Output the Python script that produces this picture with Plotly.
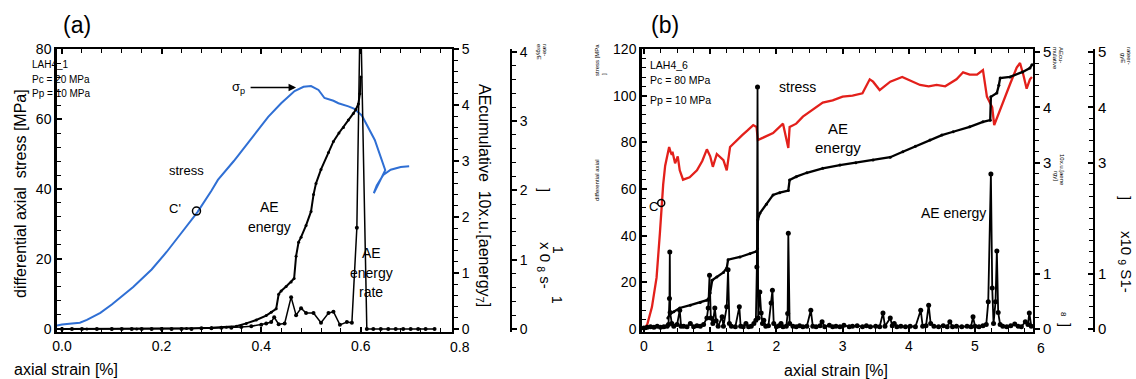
import plotly.graph_objects as go

W, H = 1136, 379
def fx(p): return p / W
def fy(p): return 1 - p / H

# ---------------- Panel (a) data ----------------
a_stress_x = [-0.01, 0.0, 0.02, 0.036, 0.05, 0.077, 0.1, 0.143, 0.18, 0.21, 0.24, 0.272, 0.3, 0.313,
              0.345, 0.38, 0.414, 0.44, 0.467, 0.485, 0.5, 0.515, 0.527, 0.545, 0.555, 0.575, 0.586, 0.602,
              0.628, 0.649, 0.626, 0.632, 0.645, 0.66, 0.68, 0.697]
a_stress_y = [1.0, 1.3, 1.6, 1.8, 2.6, 4.6, 7.0, 12.0, 17.0, 22.0, 27.5, 33.4, 39.5, 42.6,
              48.0, 54.5, 60.6, 64.5, 68.0, 69.2, 69.4, 68.3, 66.0, 65.2, 64.5, 63.6, 63.0, 61.0,
              54.0, 45.4, 38.8, 41.0, 44.0, 45.5, 46.3, 46.5]

a_cum_x = [0.0, 0.05, 0.1, 0.15, 0.2, 0.25, 0.3, 0.33, 0.35, 0.37, 0.39, 0.41, 0.42, 0.43, 0.435, 0.44,
           0.45, 0.46, 0.466, 0.47, 0.475, 0.48, 0.49, 0.5, 0.505, 0.51, 0.52, 0.535, 0.545, 0.556,
           0.565, 0.575, 0.585, 0.59, 0.595, 0.598, 0.6]
a_cum_y = [0.0, 0.0, 0.0, 0.0, 0.0, 0.01, 0.02, 0.03, 0.05, 0.1, 0.16, 0.24, 0.3, 0.36, 0.62, 0.68,
           0.76, 0.84, 0.9, 1.3, 1.55, 1.64, 1.85, 2.1, 2.4, 2.6, 2.85, 3.15, 3.35, 3.5,
           3.6, 3.73, 3.85, 3.92, 4.02, 4.2, 4.5]

a_rate_x = [0.0, 0.02, 0.04, 0.07, 0.1, 0.12, 0.14, 0.16, 0.18, 0.2, 0.22, 0.24, 0.26, 0.28, 0.3, 0.32,
            0.34, 0.36, 0.38, 0.4, 0.41, 0.42, 0.426, 0.435, 0.447, 0.46, 0.47, 0.48, 0.49, 0.505,
            0.52, 0.535, 0.545, 0.558, 0.572, 0.582, 0.592, 0.599, 0.612, 0.625, 0.64, 0.655, 0.67,
            0.685, 0.7, 0.715, 0.73, 0.748]
a_rate_y = [0.0, 0.0, 0.0, 0.0, 0.0, 0.0, 0.0, 0.0, 0.0, 0.0, 0.0, 0.0, 0.0, 0.01, 0.01, 0.02,
            0.02, 0.03, 0.04, 0.06, 0.08, 0.1, 0.17, 0.07, 0.08, 0.46, 0.2, 0.3, 0.23, 0.23,
            0.09, 0.23, 0.25, 0.06, 0.1, 0.09, 1.46, 4.8, 0.0, 0.0, 0.0, 0.0, 0.0,
            0.0, 0.0, 0.0, 0.0, 0.0]

# ---------------- Panel (b) data ----------------
b_stress_x = [0.0, 0.05, 0.12, 0.19, 0.24, 0.27, 0.29, 0.32, 0.35, 0.38, 0.4, 0.42, 0.43, 0.45, 0.47,
              0.51, 0.54, 0.59, 0.69, 0.8, 0.88, 0.95, 1.0, 1.04, 1.1, 1.2, 1.25, 1.3, 1.4, 1.48, 1.56,
              1.65, 1.7, 1.72, 1.8, 1.95, 2.1, 2.18, 2.2, 2.3, 2.4, 2.55, 2.7, 2.85, 3.0, 3.15, 3.3,
              3.41, 3.46, 3.56, 3.72, 3.9, 4.05, 4.17, 4.3, 4.42, 4.55, 4.62, 4.72, 4.82, 4.92, 5.03,
              5.12, 5.18, 5.22, 5.26, 5.29, 5.35, 5.43, 5.53, 5.63, 5.68, 5.73, 5.78, 5.83, 5.86]
b_stress_y = [0.0, 2.0, 9.4, 22.0, 41.0, 54.0, 62.0, 70.0, 74.0, 78.0, 76.0, 74.6, 76.0, 73.0, 71.0,
              74.0, 68.0, 64.0, 65.0, 68.0, 72.0, 77.0, 74.0, 69.5, 75.0, 72.4, 68.0, 78.0, 81.0, 83.0, 85.0,
              87.4, 86.6, 81.0, 82.0, 84.0, 88.0, 77.6, 86.6, 88.0, 91.0, 94.0, 97.0, 98.0, 99.6, 100.0, 101.0,
              107.0, 106.0, 102.4, 106.0, 108.0, 106.0, 104.6, 104.0, 104.6, 104.0, 105.4, 107.0, 110.0, 109.0, 109.0,
              111.0, 99.6, 97.0, 95.0, 87.4, 92.0, 98.0, 105.0, 112.0, 114.0, 109.0, 103.0, 107.0, 108.0]

b_cum_x = [0.36, 0.39, 0.45, 0.54, 0.7, 0.85, 0.95, 0.99, 1.0, 1.03, 1.1, 1.2, 1.25, 1.27, 1.45, 1.6,
           1.7, 1.715, 1.72, 1.75, 1.85, 1.95, 2.05, 2.18, 2.2, 2.3, 2.46, 2.7, 2.96, 3.2, 3.46, 3.72,
           3.91, 4.1, 4.32, 4.5, 4.67, 4.92, 5.12, 5.23, 5.24, 5.33, 5.36, 5.38, 5.53, 5.72, 5.83, 5.86]
b_cum_y = [0.2, 0.27, 0.31, 0.38, 0.43, 0.48, 0.52, 0.58, 0.65, 0.88, 0.94, 1.02, 1.1, 1.25, 1.3, 1.36,
           1.4, 1.45, 1.97, 2.09, 2.25, 2.42, 2.46, 2.5, 2.69, 2.75, 2.82, 2.9, 2.96, 3.0, 3.05, 3.1,
           3.2, 3.3, 3.41, 3.5, 3.56, 3.65, 3.74, 3.77, 4.19, 4.26, 4.4, 4.53, 4.55, 4.64, 4.71, 4.77]

b_rate_x = [0.0, 0.05, 0.1, 0.15, 0.2, 0.25, 0.3, 0.35, 0.37, 0.385, 0.39, 0.395, 0.42, 0.45, 0.5, 0.54,
            0.56, 0.6, 0.65, 0.7, 0.75, 0.8, 0.85, 0.9, 0.95, 0.97, 0.99, 1.01, 1.04, 1.07, 1.09, 1.12,
            1.18, 1.2, 1.25, 1.27, 1.29, 1.32, 1.38, 1.44, 1.46, 1.5, 1.54, 1.58, 1.62, 1.66, 1.69,
            1.705, 1.715, 1.725, 1.75, 1.77, 1.79, 1.81, 1.84, 1.88, 1.92, 1.94, 1.96, 2.0, 2.04, 2.07,
            2.1, 2.15, 2.17, 2.18, 2.2, 2.25, 2.3, 2.35, 2.4, 2.46, 2.52, 2.55, 2.6, 2.66, 2.69, 2.73,
            2.8, 2.85, 2.9, 2.96, 3.02, 3.1, 3.15, 3.22, 3.3, 3.36, 3.42, 3.5, 3.56, 3.61, 3.64, 3.72,
            3.75, 3.78, 3.82, 3.88, 3.95, 4.02, 4.1, 4.18, 4.21, 4.26, 4.3, 4.33, 4.38, 4.45, 4.52,
            4.58, 4.62, 4.66, 4.72, 4.8, 4.88, 4.94, 4.97, 5.0, 5.06, 5.12, 5.17, 5.2, 5.24, 5.26,
            5.28, 5.31, 5.33, 5.35, 5.38, 5.42, 5.48, 5.54, 5.6, 5.65, 5.7, 5.76, 5.8, 5.82, 5.85]
b_rate_y = [0.02, 0.03, 0.04, 0.03, 0.05, 0.03, 0.04, 0.05, 0.08, 0.55, 1.39, 0.3, 0.1, 0.05, 0.08, 0.34,
            0.05, 0.05, 0.04, 0.1, 0.04, 0.06, 0.05, 0.08, 0.2, 0.38, 0.97, 0.2, 0.1, 0.38, 0.15, 0.05,
            0.22, 0.05, 0.4, 1.07, 0.1, 0.05, 0.04, 0.4, 0.05, 0.04, 0.1, 0.04, 0.05, 0.1, 0.16,
            1.12, 4.37, 0.2, 0.67, 0.29, 0.1, 0.16, 0.05, 0.06, 0.47, 0.7, 0.1, 0.04, 0.06, 0.1,
            0.04, 0.05, 0.28, 1.73, 0.1, 0.05, 0.04, 0.06, 0.04, 0.05, 0.34, 0.05, 0.04, 0.06, 0.13, 0.04,
            0.07, 0.04, 0.05, 0.04, 0.07, 0.04, 0.05, 0.06, 0.04, 0.06, 0.04, 0.05, 0.04, 0.29, 0.05, 0.2,
            0.06, 0.1, 0.04, 0.05, 0.04, 0.05, 0.04, 0.34, 0.05, 0.06, 0.43, 0.1, 0.05, 0.04, 0.06,
            0.04, 0.13, 0.04, 0.05, 0.04, 0.05, 0.04, 0.22, 0.05, 0.04, 0.06, 0.08, 0.49, 2.8, 0.74,
            0.1, 0.49, 1.41, 0.3, 0.08, 0.05, 0.04, 0.06, 0.09, 0.05, 0.04, 0.13, 0.08, 0.29, 0.05]

a_xticks = [0.0, 0.2, 0.4, 0.6]
a_xticktext = ["0.0", "0.2", "0.4", "0.6"]
a_yticks = [0, 20, 40, 60, 80]
a_y2ticks = [0, 1, 2, 3, 4, 5]
a_y3ticks = [0, 1, 2, 3, 4]
b_xticks = [0, 1, 2, 3, 4, 5]
b_yticks = [0, 20, 40, 60, 80, 100, 120]
b_y5ticks = [0, 1, 3, 4, 5]
b_y6ticks = [0, 1, 3, 4, 5]

FONT = "Liberation Sans, Arial, sans-serif"
TF = dict(family=FONT, size=14, color="black")
BLUE = "#2f6fd4"
RED = "#e3201b"

fig = go.Figure()
# panel a
fig.add_trace(go.Scatter(x=a_stress_x, y=a_stress_y, mode="lines", line=dict(color=BLUE, width=2),
                         xaxis="x", yaxis="y"))
fig.add_trace(go.Scatter(x=[0.27], y=[33.7], mode="markers",
                         marker=dict(symbol="circle-open", size=8, color="black", line=dict(width=1.5)),
                         xaxis="x", yaxis="y"))
fig.add_trace(go.Scatter(x=a_cum_x, y=a_cum_y, mode="lines+markers", line=dict(color="black", width=2),
                         marker=dict(size=3, color="black"), xaxis="x", yaxis="y2"))
fig.add_trace(go.Scatter(x=a_rate_x, y=a_rate_y, mode="lines+markers", line=dict(color="black", width=1.5),
                         marker=dict(size=4, color="black"), xaxis="x", yaxis="y3"))
# panel b
fig.add_trace(go.Scatter(x=b_stress_x, y=b_stress_y, mode="lines", line=dict(color=RED, width=2.3),
                         xaxis="x2", yaxis="y4"))
fig.add_trace(go.Scatter(x=[0.26], y=[54], mode="markers",
                         marker=dict(symbol="circle-open", size=7, color="black", line=dict(width=1.5)),
                         xaxis="x2", yaxis="y4"))
fig.add_trace(go.Scatter(x=b_cum_x, y=b_cum_y, mode="lines+markers", line=dict(color="black", width=2.3),
                         marker=dict(size=3, color="black"), xaxis="x2", yaxis="y5"))
fig.add_trace(go.Scatter(x=b_rate_x, y=b_rate_y, mode="lines+markers", line=dict(color="black", width=1.8),
                         marker=dict(size=5, color="black"), xaxis="x2", yaxis="y6"))

YDOM = [fy(332), fy(49)]

def axis_common(**kw):
    d = dict(showgrid=False, zeroline=False, showline=True, linecolor="black", linewidth=1.5,
             tickcolor="black", tickwidth=1.5, tickfont=TF, ticks="inside", ticklen=5, automargin=False)
    d.update(kw)
    return d

def minor(dt, side="inside"):
    return dict(dtick=dt, tick0=0, ticks=side, ticklen=4, tickcolor="black", tickwidth=1.2)

layout = dict(
    width=W, height=H, autosize=False, margin=dict(l=0, r=0, t=0, b=0, pad=0, autoexpand=False),
    paper_bgcolor="white", plot_bgcolor="white", showlegend=False,
    font=dict(family=FONT, color="black"),
    xaxis=axis_common(domain=[fx(57), fx(452)], range=[-0.01, 0.783], anchor="y",
                      tickvals=a_xticks, ticktext=a_xticktext, mirror="ticks", linewidth=2,
                      minor=minor(0.04)),
    yaxis=axis_common(domain=YDOM, range=[-0.86, 80], anchor="x", tickvals=a_yticks, linewidth=2.5,
                      minor=minor(4)),
    yaxis2=axis_common(overlaying="y", side="right", anchor="x", range=[-0.054, 5.0], tickvals=a_y2ticks,
                       ticks="outside", ticklen=5, linewidth=2, minor=minor(0.2, "outside")),
    yaxis3=axis_common(overlaying="y", side="right", anchor="free", position=fx(511), range=[-0.043, 4.04],
                       tickvals=a_y3ticks, ticks="outside", ticklen=5, linewidth=2,
                       minor=minor(0.2, "outside")),
    xaxis2=axis_common(domain=[fx(642), fx(1033)], range=[-0.03, 5.876], anchor="y4",
                       tickvals=b_xticks, mirror="ticks", linewidth=2, minor=minor(0.25)),
    yaxis4=axis_common(domain=YDOM, range=[-1.29, 120], anchor="x2", tickvals=b_yticks, linewidth=2.5,
                       minor=minor(4)),
    yaxis5=axis_common(overlaying="y4", side="right", anchor="x2", range=[-0.054, 5.054], tickvals=b_y5ticks,
                       ticks="outside", ticklen=5, linewidth=2, tickfont=dict(family=FONT, size=15, color="black"),
                       minor=minor(0.2, "outside")),
    yaxis6=axis_common(overlaying="y4", side="right", anchor="free", position=fx(1094), range=[-0.054, 5.054],
                       tickvals=b_y6ticks, ticks="inside", ticklen=5, linewidth=2,
                       tickfont=dict(family=FONT, size=15, color="black"), minor=minor(0.2)),
)
fig.update_layout(**layout)

anns = []
def ann(text, x, y, size=14, angle=0, xanchor="center", yanchor="middle"):
    anns.append(dict(text=text, x=fx(x), y=fy(y), xref="paper", yref="paper", showarrow=False,
                     textangle=angle, xanchor=xanchor, yanchor=yanchor,
                     font=dict(family=FONT, size=size, color="black")))

# panel labels
ann("(a)", 77, 25, 23)
ann("(b)", 665, 25, 23)
# panel a titles
ann("differential axial  stress [MPa]", 20, 194, 16, -90)
ann("axial strain [%]", 12, 369, 16, 0, xanchor="left")
ann("0.8", 460, 347, 14)
ann("AEcumulative  10x.u.[aenergy<sub>7</sub>]", 484, 195, 16, 90)
ann("rate-", 545, 50, 6, 90)
ann("ergyE", 539, 52, 6, 90)
ann("]", 545, 190, 15, 90)
ann("x 0 <sub>8</sub> s-", 545, 265, 15, 90)
ann("1", 558, 250, 14, 90)
ann("1", 557, 300, 14, 90)
# panel a in-plot text
ann("LAH4_1", 30, 65, 10, 0, xanchor="left")
ann("Pc = 20 MPa", 30, 80, 10, 0, xanchor="left")
ann("Pp = 10 MPa", 30, 94, 10, 0, xanchor="left")
ann("σ<sub>p</sub>", 238, 87, 13)
ann("stress", 186, 170, 13)
ann("C'", 175, 208, 13)
ann("AE", 269, 207, 14)
ann("energy", 269, 227, 14)
ann("AE", 371, 253, 14)
ann("energy", 371, 273, 14)
ann("rate", 371, 292, 14)
# arrow for sigma_p
anns.append(dict(x=0.47, y=69, xref="x", yref="y", ax=-47, ay=0, axref="pixel", ayref="pixel",
                 text="", showarrow=True, arrowhead=2, arrowsize=1, arrowwidth=1.5, arrowcolor="black"))

# panel b titles
ann("stress [MPa", 597, 60, 6, -90)
ann("]", 604, 74, 6, -90)
ann("differential axial", 597, 180, 6, -90)
ann("axial strain [%]", 836, 370, 16)
ann("6", 1041, 348, 14)
ann("AEcu-", 1061, 55, 6, 90)
ann("mulative", 1055, 58, 6, 90)
ann("10x.u.[aene", 1062, 170, 6, 90)
ann("rgy]", 1056, 176, 6, 90)
ann("8", 1064, 314, 8, 90)
ann("]", 1066, 325, 15, 90)
ann("rateer-", 1129, 56, 6, 90)
ann("gyE", 1123, 58, 6, 90)
ann("]", 1126, 198, 15, 90)
ann("x10 <sub>9</sub> S1-", 1126, 262, 15, 90)
# panel b in-plot text
ann("LAH4_6", 648, 65, 10.5, 0, xanchor="left")
ann("Pc = 80 MPa", 648, 80, 10.5, 0, xanchor="left")
ann("Pp = 10 MPa", 648, 100, 10.5, 0, xanchor="left")
ann("stress", 797, 87, 14)
ann("AE", 838, 128, 15)
ann("energy", 838, 147, 15)
ann("C", 653, 206, 13)
ann("AE energy", 953, 213, 14)

fig.update_layout(annotations=anns)
fig.write_html("out.html", config={"responsive": False, "displayModeBar": False},
               post_script="document.documentElement.style.margin='0';document.body.style.margin='0';"
                           "document.body.style.padding='0';document.body.style.overflow='hidden';")
